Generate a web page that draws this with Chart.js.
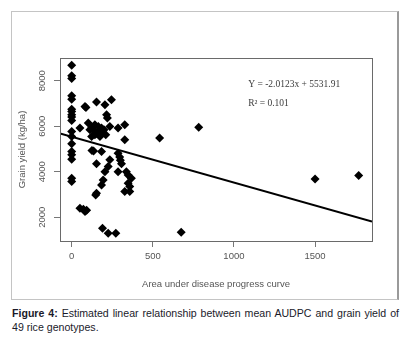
<!DOCTYPE html>
<html>
<head>
<meta charset="utf-8">
<script src="https://cdn.jsdelivr.net/npm/chart.js@4.4.1/dist/chart.umd.min.js"></script>
<style>
  html, body { margin: 0; padding: 0; background: #fff; }
  #wrap { position: relative; width: 413px; height: 342px; overflow: hidden; }
  #frame { position: absolute; left: 11px; top: 11px; width: 385px; height: 287px;
           border: 1px solid #c4c4c4; border-right: 2px solid #9a9a9a; box-sizing: content-box; }
  #c { position: absolute; left: 0; top: 0; }
  #cap { position: absolute; left: 12px; top: 307px; width: 387px;
         font-family: "Liberation Sans", Arial, sans-serif; font-size: 10.6px; line-height: 13.5px;
         color: #1a1a2a; text-align: justify; text-align-last: left; }
  #cap b { font-weight: bold; }
</style>
</head>
<body>
<div id="wrap">
  <div id="frame"></div>
  <canvas id="c" width="413" height="300"></canvas>
  <div id="cap"><b>Figure 4:</b> Estimated linear relationship between mean AUDPC and grain yield of 49 rice genotypes.</div>
</div>
<script>
// AUDPC (x) and grain yield kg/ha (y)
const audpc = [
  0, 0, 0, 0, 0, 0, 0, 0, 0, 0, 0, 0, 0, 0, 0, 0, 0, 0,
  51, 82, 88, 102, 112, 123, 123, 133, 143, 143, 153, 164, 170, 174, 184, 190, 199, 210,
  125, 135, 153, 153, 148, 153, 184, 205, 215, 220, 245, 235, 286, 327, 327,
  286, 296, 300, 307, 286, 235, 225, 205, 194, 184, 337, 348, 368, 348, 358, 327, 358,
  51, 72, 82, 92, 190, 225, 272, 542, 783, 675, 1500, 1769
];
const yieldKg = [
  8680, 8220, 8100, 7340, 7190, 6750, 6650, 6500, 6400, 6250, 5770, 5550, 5230, 4890, 4740, 4550, 3710, 3570,
  5920, 6870, 6820, 6140, 5840, 5920, 5550, 5840, 6060, 5620, 5690, 5990, 5780, 5550, 5920, 5690, 5840, 5620,
  4930, 4910, 4350, 3050, 2980, 7060, 4890, 6940, 6500, 6360, 7160, 5990, 5920, 6060, 5400,
  4810, 4650, 4500, 4350, 4000, 4520, 4230, 4000, 3640, 3420, 4000, 3860, 3710, 3490, 3350, 3130, 3130,
  2390, 2350, 2250, 2300, 1510, 1290, 1290, 5480, 5960, 1340, 3680, 3830
];
const xTicks = [0, 500, 1000, 1500];
const yTicks = [2000, 4000, 6000, 8000];
const xRange = [-72, 1851];
const yRange = [952, 9000];
const fitSlope = [-2.0123];
const fitIntercept = [5531.91];
const eqLabels = ["Y = -2.0123x + 5531.91", "R\u00B2 = 0.101"];
const eqAnchor = { x: [1088, 1088], y: [7830, 7020] };

const points = audpc.map((x, i) => ({ x: x, y: yieldKg[i] }));
const fitLine = xRange.map(x => ({ x: x, y: fitSlope[0] * x + fitIntercept[0] }));

const boxPlugin = {
  id: 'boxAndText',
  afterDraw(chart) {
    const { ctx, chartArea: a, scales } = chart;
    ctx.save();
    ctx.strokeStyle = '#6a6a6a';
    ctx.lineWidth = 1;
    ctx.strokeRect(a.left + 0.5, a.top + 0.5, a.right - a.left, a.bottom - a.top);
    ctx.fillStyle = '#3a3a3a';
    ctx.font = '9.5px "Liberation Serif", "Times New Roman", serif';
    ctx.textBaseline = 'middle';
    ctx.textAlign = 'left';
    eqLabels.forEach((t, i) => {
      ctx.fillText(t, scales.x.getPixelForValue(eqAnchor.x[i]), scales.y.getPixelForValue(eqAnchor.y[i]));
    });
    ctx.restore();
  }
};

const tickFont = { family: '"Liberation Sans", Arial, sans-serif', size: 9.5 };

new Chart(document.getElementById('c'), {
  type: 'scatter',
  data: {
    datasets: [
      {
        data: points,
        pointStyle: 'rectRot',
        pointRadius: 4.5,
        pointHoverRadius: 4.5,
        backgroundColor: '#000',
        borderColor: '#000',
        borderWidth: 0,
        order: 2
      },
      {
        type: 'line',
        data: fitLine,
        borderColor: '#000',
        borderWidth: 2,
        pointRadius: 0,
        fill: false,
        order: 1
      }
    ]
  },
  options: {
    responsive: false,
    animation: false,
    layout: { padding: { top: 58, right: 41, left: 0, bottom: 0 } },
    plugins: { legend: { display: false }, tooltip: { enabled: false } },
    scales: {
      x: {
        type: 'linear',
        min: xRange[0], max: xRange[1],
        afterBuildTicks: s => { s.ticks = xTicks.map(v => ({ value: v })); },
        afterFit: s => { s.height = 59; },
        ticks: { font: tickFont, color: '#555', padding: 4, maxRotation: 0, callback: v => String(v) },
        grid: { drawOnChartArea: false, drawTicks: true, tickLength: 6, color: '#777' },
        border: { display: true, color: '#777' },
        title: { display: true, text: 'Area under disease progress curve', color: '#555',
                 font: tickFont, padding: { top: 0, bottom: 10 } }
      },
      y: {
        type: 'linear',
        min: yRange[0], max: yRange[1],
        afterBuildTicks: s => { s.ticks = yTicks.map(v => ({ value: v })); },
        afterFit: s => { s.width = 60; },
        ticks: { font: tickFont, color: '#555', padding: 1, minRotation: 90, maxRotation: 90, crossAlign: 'center', callback: v => String(v) },
        grid: { drawOnChartArea: false, drawTicks: true, tickLength: 6, color: '#777' },
        border: { display: true, color: '#777' },
        title: { display: true, text: 'Grain yield (kg/ha)', color: '#555',
                 font: tickFont, padding: { top: 17, bottom: 0 } }
      }
    }
  },
  plugins: [boxPlugin]
});
</script>
</body>
</html>
